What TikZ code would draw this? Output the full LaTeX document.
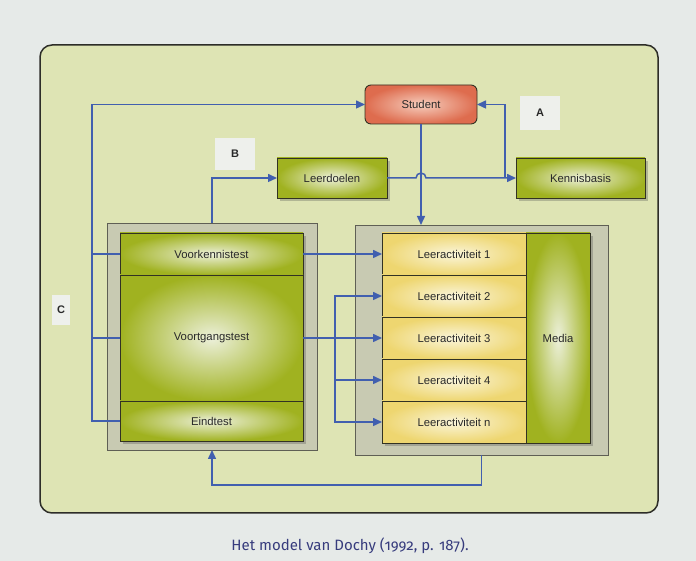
\documentclass[tikz,border=0pt]{standalone}
\usepackage{fontspec}
\setmainfont{Liberation Sans}
\newfontfamily\onderschrift[Numbers=OldStyle]{Fira Sans}
\usetikzlibrary{positioning}
\usetikzlibrary{arrows.meta}
\usetikzlibrary{calc}
\usetikzlibrary{shadows}
\definecolor{figPagina}{RGB}{230,234,232}
\definecolor{figKader}{RGB}{222,228,180}
\definecolor{figKaderRand}{RGB}{45,45,40}
\definecolor{figGroen}{RGB}{160,178,32}
\definecolor{figGroenLicht}{RGB}{236,240,218}
\definecolor{figGeel}{RGB}{238,214,112}
\definecolor{figGeelLicht}{RGB}{250,245,218}
\definecolor{figRood}{RGB}{222,108,78}
\definecolor{figRoodLicht}{RGB}{246,206,190}
\definecolor{figRand}{RGB}{50,50,35}
\definecolor{figPaneel}{RGB}{200,202,178}
\definecolor{figPaneelRand}{RGB}{95,95,85}
\definecolor{figLabel}{RGB}{238,240,236}
\definecolor{figTekst}{RGB}{40,40,40}
\definecolor{figBlauw}{RGB}{65,95,175}
\definecolor{figOnderschrift}{RGB}{55,60,125}
\tikzset{
  blok/.style={
    rectangle, draw=figRand, line width=0.9pt, outer sep=0pt,
    inner color=figGroenLicht, outer color=figGroen, text=figTekst,
    align=center, font=\fontsize{11.3}{13}\selectfont, inner sep=3pt
  },
  blokg/.style={blok, inner color=figGeelLicht, outer color=figGeel},
  bloks/.style={blok, rounded corners=6pt, inner color=figRoodLicht, outer color=figRood},
  paneel/.style={
    rectangle, draw=figPaneelRand, line width=0.9pt, fill=figPaneel, outer sep=0pt
  },
  letter/.style={
    rectangle, fill=figLabel, text=figTekst,
    font=\bfseries\fontsize{11}{13}\selectfont
  },
  schaduw/.style={drop shadow={shadow xshift=3pt, shadow yshift=-3pt, opacity=0.3, fill=black!70}},
  pijl/.style={-{Triangle[length=9pt,width=8pt]}, line width=1.5pt, draw=figBlauw},
  lijn/.style={line width=1.5pt, draw=figBlauw}
}
\begin{document}
\begin{tikzpicture}[x=1pt, y=1pt]
  % Achtergrond en kader
  \fill[figPagina] (0,0) rectangle (696,561);
  \useasboundingbox (0,0) rectangle (696,561);
  \draw[fill=figKader, draw=figKaderRand, line width=1.5pt, rounded corners=12pt] (40,48) rectangle (658,516);

  % Panelen
  \node[paneel, minimum width=210pt, minimum height=227pt] (linkspaneel) at (212,224.5) {};
  \node[paneel, minimum width=253pt, minimum height=230pt] (rechtspaneel) at (481.5,221) {};

  % Toetsen
  \node[blok, schaduw, minimum width=183pt, minimum height=42pt, anchor=north west] (voor) at (120,328) {Voorkennistest};
  \node[blok, schaduw, minimum width=183pt, minimum height=126pt, below=0pt of voor] (voortgang) {Voortgangstest};
  \node[blok, schaduw, minimum width=183pt, minimum height=40pt, below=0pt of voortgang] (eind) {Eindtest};

  % Leeractiviteiten en media
  \node[blokg, schaduw, minimum width=144pt, minimum height=42pt, anchor=north west] (la1) at (382,328) {Leeractiviteit 1};
  \node[blokg, schaduw, minimum width=144pt, minimum height=42pt, below=0pt of la1] (la2) {Leeractiviteit 2};
  \node[blokg, schaduw, minimum width=144pt, minimum height=42pt, below=0pt of la2] (la3) {Leeractiviteit 3};
  \node[blokg, schaduw, minimum width=144pt, minimum height=42pt, below=0pt of la3] (la4) {Leeractiviteit 4};
  \node[blokg, schaduw, minimum width=144pt, minimum height=42pt, below=0pt of la4] (lan) {Leeractiviteit n};
  \node[blok, schaduw, minimum width=64pt, minimum height=210pt, anchor=north west] (media) at (la1.north east) {Media};

  % Student, leerdoelen, kennisbasis
  \node[bloks, minimum width=112pt, minimum height=39pt] (student) at (421,456.5) {Student};
  \node[blok, schaduw, minimum width=110pt, minimum height=40pt] (leerdoelen) at (332,383) {Leerdoelen};
  \node[blok, schaduw, minimum width=129pt, minimum height=40pt, right=129pt of leerdoelen] (kennisbasis) {Kennisbasis};

  % Letters
  \node[letter, minimum width=40pt, minimum height=34pt] (la) at (540,448) {A};
  \node[letter, minimum width=40pt, minimum height=32pt] (lb) at (235,407) {B};
  \node[letter, minimum width=18pt, minimum height=30pt] (lc) at (61,251) {C};

  % Terugkoppeling naar student (C)
  \draw[pijl] (eind.west) -- ++(-28,0) |- (student.west);
  \draw[lijn] (voor.west) -- ++(-28,0);
  \draw[lijn] (voortgang.west) -- ++(-28,0);

  % Leerdoelen en kennisbasis (B, A)
  \draw[pijl] (linkspaneel.north) |- (leerdoelen.west);
  \draw[pijl] (leerdoelen.east) -- ($(student.south |- leerdoelen.east)+(-5,0)$)
    arc[start angle=180, end angle=0, radius=5pt] -- (kennisbasis.west);
  \draw[pijl] ($(kennisbasis.west)+(-11,0)$) |- (student.east);
  \draw[pijl] (student.south) -- (student.south |- rechtspaneel.north);

  % Toetsen naar leeractiviteiten
  \draw[pijl] (voor.east) -- (voor.east -| la1.west);
  \draw[pijl] (voortgang.east) -- (voortgang.east -| la3.west);
  \coordinate (splits) at ($(voortgang.east)+(32,0)$);
  \draw[pijl] (splits) |- (la2.west);
  \draw[pijl] (splits) |- (la4.west);
  \draw[pijl] (splits) |- (lan.west);

  % Terug naar de toetsen
  \draw[pijl] (rechtspaneel.south) -- ++(0,-30) -| (linkspaneel.south);

  % Onderschrift
  \node[font=\onderschrift\fontsize{15}{17}\selectfont, text=figOnderschrift] (bijschrift) at (350,15) {Het model van Dochy (1992, p. 187).};
\end{tikzpicture}
\end{document}
